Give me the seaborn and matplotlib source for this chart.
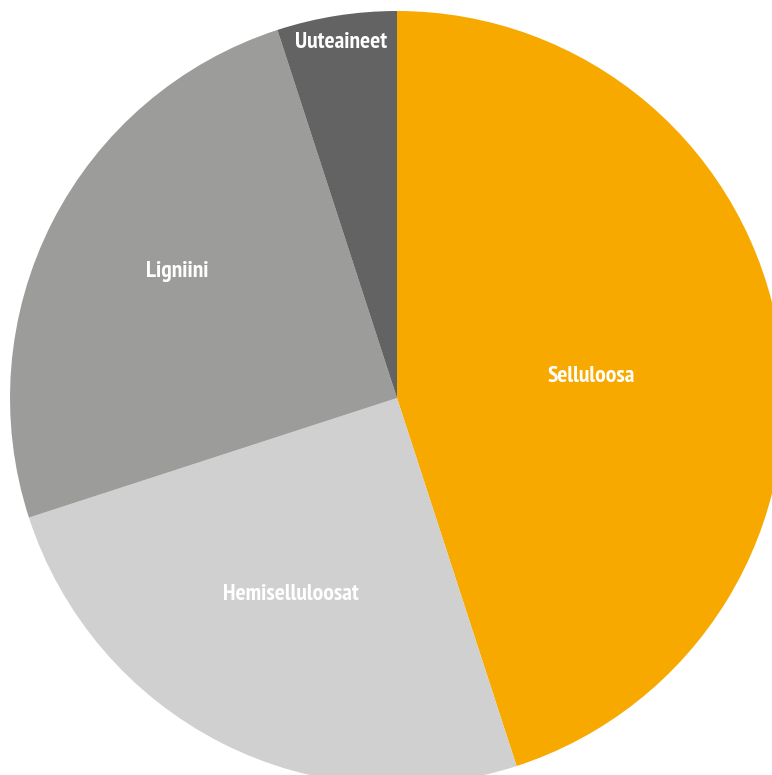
import numpy as np
import matplotlib
matplotlib.use("Agg")
import matplotlib.pyplot as plt
import seaborn as sns

sns.set_theme(style="white")
plt.rcParams['font.family'] = ["PT Sans Narrow", "DejaVu Sans"]

# puun koostumus (%)
labels = ["Selluloosa", "Hemiselluloosat", "Ligniini", "Uuteaineet"]
values = [45, 25, 25, 5]
colors = ["#F7A900", "#D0D0D0", "#9C9C9B", "#636363"]
# label placement: distance from centre and small angle nudge (deg)
label_dist = [0.504, 0.576, 0.656, 0.931]
label_nudge = [-2.8, -1.4, -3.0, 0.0]

fig = plt.figure(figsize=(7.72, 7.75), dpi=100)
ax = fig.add_axes([0, 0, 1, 1])

wedges, texts = ax.pie(values, labels=labels, colors=colors, startangle=90,
                       counterclock=False, labeldistance=0.6,
                       wedgeprops={"linewidth": 0})

for w, t, d, n in zip(wedges, texts, label_dist, label_nudge):
    ang = np.deg2rad((w.theta1 + w.theta2) / 2 + n)
    t.set_position((d * np.cos(ang), d * np.sin(ang)))
    t.set_ha("center")
    t.set_va("center")
    t.set_color("white")
    t.set_fontsize(17)
    t.set_fontweight("bold")

R = 387
ax.set_xlim(-397 / R, (772 - 397) / R)
ax.set_ylim(-(775 - 398) / R, 398 / R)
ax.set_aspect("equal")
ax.axis("off")

fig.savefig("out.png", dpi=100, facecolor="white")
